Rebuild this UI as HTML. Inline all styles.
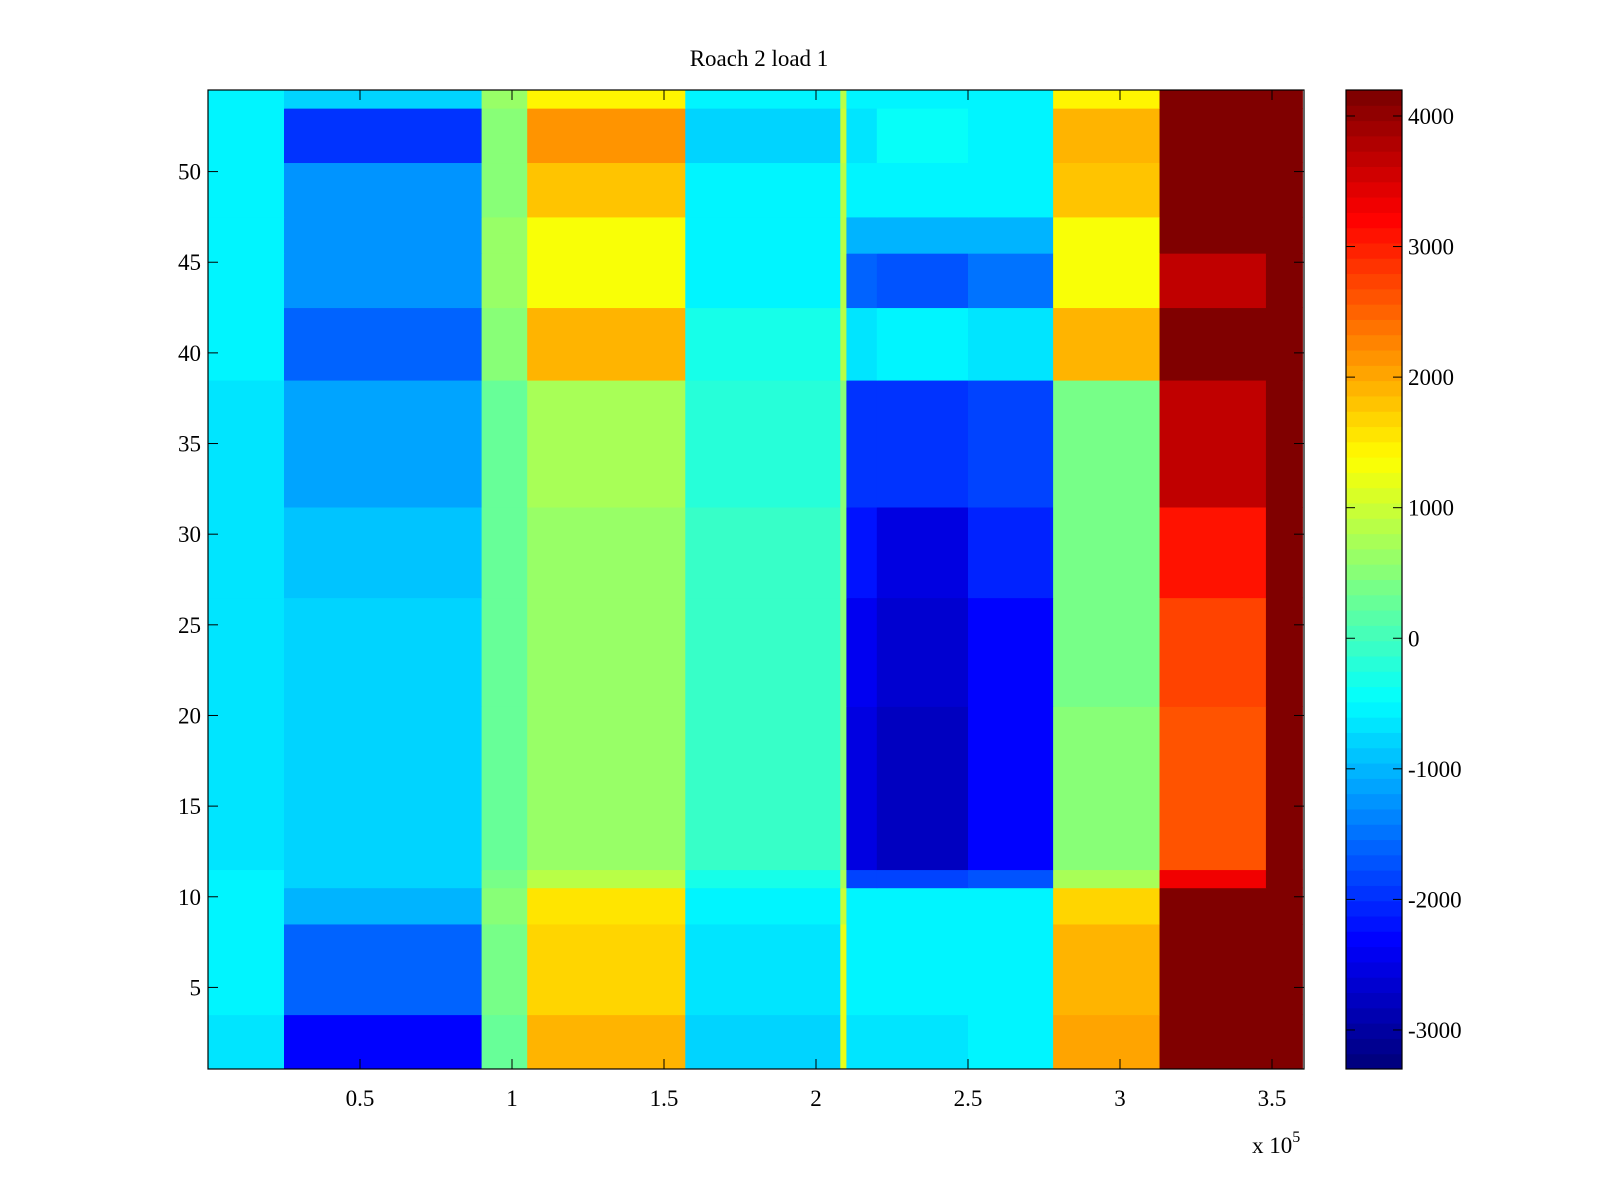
<!DOCTYPE html>
<html><head><meta charset="utf-8"><style>
html,body{margin:0;padding:0;background:#fff;}
svg{display:block;font-family:"Liberation Serif",serif;}
</style></head><body>
<svg id="chart" width="1600" height="1200" viewBox="0 0 1600 1200"></svg>
<script>
// x segment boundaries (units of 1e5)
const xEdges = [0,0.25,0.9,1.05,1.57,2.08,2.1,2.2,2.5,2.78,3.13,3.48,3.6];
// row groups: [firstRow, lastRow]
const rowRanges = [[1,3],[4,8],[9,10],[11,11],[12,20],[21,26],[27,31],[32,38],[39,42],[43,45],[46,47],[48,50],[51,53],[54,54]];
// values per row group per x segment
const values = [
[-700,-2300,300,1900,-800,1200,-700,-700,-600,2000,4200,4200],
[-600,-1600,400,1700,-700,1200,-600,-600,-600,1900,4200,4200],
[-500,-1000,500,1600,-500,1000,-500,-500,-500,1700,4200,4200],
[-600,-800,400,900,-300,800,-1800,-1800,-1700,800,3300,4200],
[-700,-800,300,600,-100,500,-2500,-2800,-2300,500,2600,4200],
[-700,-800,300,600,-100,500,-2400,-2600,-2300,400,2700,4200],
[-700,-900,300,600,-100,500,-2200,-2500,-2100,400,3100,4200],
[-700,-1100,300,700,-200,500,-2000,-2000,-1800,400,3700,4200],
[-600,-1600,500,1900,-300,900,-700,-500,-700,1900,4200,4200],
[-600,-1200,600,1300,-500,900,-1600,-1700,-1500,1300,3700,4200],
[-600,-1300,600,1300,-500,900,-1000,-1000,-1000,1300,4200,4200],
[-600,-1300,500,1800,-600,900,-600,-500,-600,1800,4200,4200],
[-600,-2000,500,2200,-800,1000,-700,-400,-600,1900,4200,4200],
[-600,-800,600,1500,-500,900,-600,-600,-600,1500,4200,4200]
];
const xTicks = [0.5,1,1.5,2,2.5,3,3.5];
const yTicks = [5,10,15,20,25,30,35,40,45,50];
const cTicks = [4000,3000,2000,1000,0,-1000,-2000,-3000];
const cMin = -3299, cMax = 4199;

const NS = "http://www.w3.org/2000/svg";
const svg = document.getElementById('chart');
const L=208, R=1304, T=90, B=1069;
const xS = v => L + v*304;
const yS = v => B - (v-0.5)*(B-T)/54;
function jet(t){
  t=Math.max(0,Math.min(1,t));
  t=Math.floor(t*63.999)/63;
  const f=x=>Math.round(255*Math.max(0,Math.min(1,x)));
  return `rgb(${f(1.5-Math.abs(4*t-3))},${f(1.5-Math.abs(4*t-2))},${f(1.5-Math.abs(4*t-1))})`;
}
const cmap = v => jet((v-cMin)/(cMax-cMin));
function el(tag, attrs, parent){const e=document.createElementNS(NS,tag);for(const k in attrs)e.setAttribute(k,attrs[k]);(parent||svg).appendChild(e);return e;}

const cells = el('g',{});


rowRanges.forEach((rr,gi)=>{
  const y0=yS(rr[1]+0.5), y1=yS(rr[0]-0.5);
  for(let s=0;s<xEdges.length-1;s++){
    const x0=xS(xEdges[s]), x1=Math.min(R,xS(xEdges[s+1]));
    const r=el('rect',{x:x0,y:y0,width:x1-x0+0.5,height:y1-y0+0.5,fill:cmap(values[gi][s])},cells);
    
    
  }
});
const frame=el('rect',{x:L,y:T,width:R-L,height:B-T,fill:'none',stroke:'#000','stroke-width':1.2});


xTicks.forEach(v=>{
  const x=xS(v);
  el('line',{x1:x,x2:x,y1:B,y2:B-10,stroke:'#000'});
  el('line',{x1:x,x2:x,y1:T,y2:T+10,stroke:'#000'});
  const t=el('text',{x:x,y:1106,'text-anchor':'middle','font-size':23});
  t.textContent=v;
  
  
});
yTicks.forEach(v=>{
  const y=yS(v);
  el('line',{x1:L,x2:L+10,y1:y,y2:y,stroke:'#000'});
  el('line',{x1:R,x2:R-10,y1:y,y2:y,stroke:'#000'});
  const t=el('text',{x:201,y:y+8,'text-anchor':'end','font-size':23});
  t.textContent=v;
  
  
});
const title=el('text',{x:759,y:66,'text-anchor':'middle','font-size':23});
title.textContent='Roach 2 load 1';


const ex=el('text',{x:1252,y:1153,'font-size':23});
ex.innerHTML='x 10<tspan dy="-11" font-size="16">5</tspan>';



// colorbar
const CL=1346, CR=1402;
const cb=el('g',{});


const cY = v => B - (v-cMin)/(cMax-cMin)*(B-T);
for(let i=0;i<64;i++){
  const v0=cMin+(cMax-cMin)*i/64, v1=cMin+(cMax-cMin)*(i+1)/64;
  el('rect',{x:CL,y:cY(v1),width:CR-CL,height:cY(v0)-cY(v1)+0.5,fill:jet((i+0.5)/64)},cb);
}
el('rect',{x:CL,y:T,width:CR-CL,height:B-T,fill:'none',stroke:'#000','stroke-width':1.2},cb);
cTicks.forEach(v=>{
  const y=cY(v);
  el('line',{x1:CL,x2:CL+9,y1:y,y2:y,stroke:'#000'},cb);
  el('line',{x1:CR,x2:CR-9,y1:y,y2:y,stroke:'#000'},cb);
  const t=el('text',{x:1408,y:y+8,'font-size':23},cb);
  t.textContent=v;
  
  
});
</script>
</body></html>
